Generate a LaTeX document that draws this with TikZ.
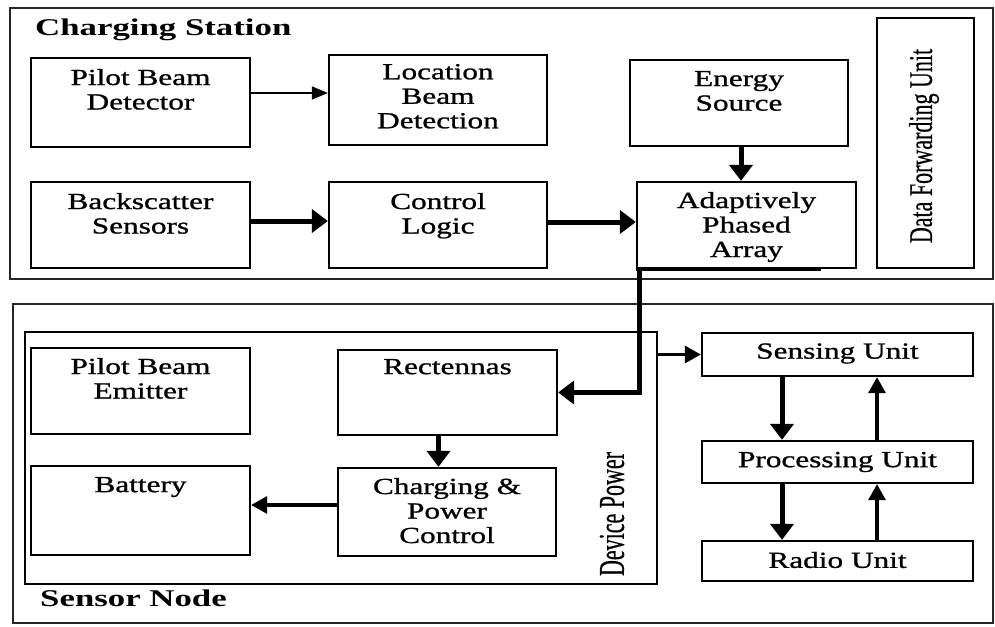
\documentclass[tikz,border=0pt]{standalone}
\usepackage{fontspec}
\setmainfont{Liberation Serif}
\newfontfamily\bxfont[FakeStretch=1.36,FakeBold=1.0]{Liberation Serif}
\newfontfamily\ttlfont[FakeStretch=1.45]{Liberation Serif}
\newfontfamily\rotfont[FakeBold=0.6]{Liberation Serif}
\usetikzlibrary{arrows.meta,fit}
\begin{document}
\begin{tikzpicture}[x=1pt,y=-1pt,
  outer/.style={draw=black!85, line width=2pt, inner sep=0pt},
  blk/.style={draw=black, line width=2.3pt, inner sep=0pt},
  bt/.style={font=\bxfont\fontsize{23pt}{24.5pt}\selectfont, align=center, inner sep=0pt},
  ttl/.style={font=\ttlfont\bfseries\fontsize{24pt}{26pt}\selectfont, inner sep=0pt},
  rot/.style={font=\rotfont\fontsize{22pt}{24pt}\selectfont, inner sep=0pt, rotate=90},
  thinarr/.style={line width=1.8pt, -{Triangle[length=16pt,width=13pt]}},
  medarr/.style={line width=3.2pt, -{Triangle[length=16pt,width=17pt]}},
  thickarr/.style={line width=5pt, -{Triangle[length=16pt,width=23pt]}}
]
\useasboundingbox (0,0) rectangle (995,626);
\fill[white] (0,0) rectangle (995,626);

% ---------- Charging Station ----------
\node[outer, fit={(10,8)(993,279)}] (cs) {};
\node[ttl, anchor=west] (cst) at (35,30) {Charging Station};

\node[blk, fit={(31,58)(250,147)}]  (pbd) {};
\node[blk, fit={(329,55)(547,145)}] (lbd) {};
\node[blk, fit={(630,60)(848,146)}] (es)  {};
\node[blk, fit={(877,18)(974,268)}] (dfu) {};
\node[blk, fit={(31,182)(250,268)}] (bs)  {};
\node[blk, fit={(329,182)(547,268)}] (cl) {};
\node[blk, fit={(637,182)(856,268)}] (apa) {};
\draw[line width=3.5pt] (apa.south west) -- ++(185,0);

\node[bt, anchor=north] (pbdt) at ([yshift=-12pt]pbd.north) {Pilot Beam\\Detector};
\node[bt, anchor=north] (lbdt) at ([yshift=-10pt]lbd.north) {Location\\Beam\\Detection};
\node[bt, anchor=north] (est)  at ([yshift=-12pt]es.north)  {Energy\\Source};
\node[bt, anchor=north] (bst)  at ([yshift=-12pt]bs.north)  {Backscatter\\Sensors};
\node[bt, anchor=north] (clt)  at ([yshift=-12pt]cl.north)  {Control\\Logic};
\node[bt, anchor=north] (apat) at ([yshift=-11pt]apa.north) {Adaptively\\Phased\\Array};
\node[rot] (dfut) at (924,146) {\scalebox{1}[1.5]{Data Forwarding Unit}};

% ---------- Sensor Node ----------
\node[outer, fit={(13,304)(993,623)}] (sn) {};
\node[ttl, anchor=west] (snt) at (40,598) {Sensor Node};
\node[blk, fit={(25,332)(657,584)}] (dp) {};
\node[rot] (dpt) at (612,514) {\scalebox{1}[1.65]{Device Power}};

\node[blk, fit={(31,348)(250,434)}]  (pbe)  {};
\node[blk, fit={(338,350)(557,435)}] (rect) {};
\node[blk, fit={(31,466)(250,555)}]  (bat)  {};
\node[blk, fit={(338,468)(556,556)}] (cpc)  {};

\node[bt, anchor=north] (pbet)  at ([yshift=-11pt]pbe.north)  {Pilot Beam\\Emitter};
\node[bt, anchor=north] (rectt) at ([yshift=-10pt]rect.north) {Rectennas};
\node[bt, anchor=north] (batt)  at ([yshift=-12pt]bat.north)  {Battery};
\node[bt, anchor=north] (cpct)  at ([yshift=-11pt]cpc.north)  {Charging \&\\Power\\Control};

\node[blk, fit={(702,333)(973,376)}] (su) {};
\node[blk, fit={(702,441)(973,483)}] (pu) {};
\node[blk, fit={(702,541)(973,581)}] (ru) {};
\node[bt] (sut) at ([yshift=1pt]su.center) {Sensing Unit};
\node[bt] (put) at (pu.center) {Processing Unit};
\node[bt] (rut) at ([yshift=1pt]ru.center) {Radio Unit};

% ---------- Connectors ----------
\draw[thinarr]  ([yshift=9.5pt]pbd.east) -- ([yshift=9.5pt]pbd.east -| lbd.west);
\draw[thickarr] ([yshift=4pt]bs.east) -- ([yshift=4pt]bs.east -| cl.west);
\draw[thickarr] ([yshift=3pt]cl.east) -- ([yshift=3pt]cl.east -| apa.west);
\draw[thickarr] ([xshift=2pt]es.south) -- ([xshift=2pt]es.south |- apa.north);
\draw[thickarr] ([xshift=4pt]apa.south west) |- (rect.east);
\draw[thickarr] ([xshift=-9pt]rect.south) -- ([xshift=-9pt]rect.south |- cpc.north);
\draw[medarr]   ([yshift=7pt]cpc.west) -- ([yshift=7pt]cpc.west -| bat.east);
\draw[medarr]   (dp.east |- su.west) -- (su.west);
\draw[thickarr] ([xshift=-55.5pt]su.south) -- ([xshift=-55.5pt]su.south |- pu.north);
\draw[medarr]   ([xshift=39.5pt]pu.north) -- ([xshift=39.5pt]pu.north |- su.south);
\draw[thickarr] ([xshift=-55.5pt]pu.south) -- ([xshift=-55.5pt]pu.south |- ru.north);
\draw[medarr]   ([xshift=39.5pt]ru.north) -- ([xshift=39.5pt]ru.north |- pu.south);
\end{tikzpicture}
\end{document}
